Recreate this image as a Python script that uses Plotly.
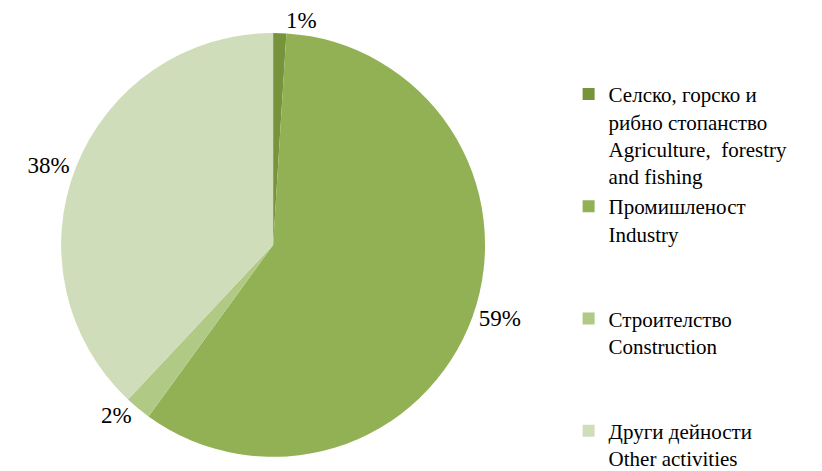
import plotly.graph_objects as go

labels = ['Селско, горско и<br>рибно стопанство<br>Agriculture,  forestry<br>and fishing',
          'Промишленост<br>Industry<br> <br> ',
          'Строителство<br>Construction<br> <br> ',
          'Други дейности<br>Other activities']
values = [1, 59, 2, 38]
colors = ['rgb(119,147,60)', 'rgb(146,177,84)', 'rgb(176,201,132)', 'rgb(208,221,186)']

fig = go.Figure()
fig.add_trace(go.Pie(labels=labels, values=values, sort=False, direction='clockwise',
                     rotation=0, marker=dict(colors=colors),
                     textinfo='percent', textposition='outside',
                     texttemplate='%{percent:.0%}',
                     textfont=dict(family='Liberation Serif', size=23, color='black'),
                     domain=dict(x=[0.055, 0.59], y=[0.047, 0.947]),
                     hoverinfo='label+percent'))

fig.update_layout(width=822, height=471,
                  margin=dict(l=0, r=0, t=0, b=0, autoexpand=False),
                  paper_bgcolor='white', plot_bgcolor='white',
                  showlegend=True,
                  legend=dict(x=0.682, y=0.86, xanchor='left', yanchor='top', valign='top',
                              font=dict(family='Liberation Serif', size=21, color='black'),
                              itemsizing='constant', tracegroupgap=0))

fig.write_html("out.html")
